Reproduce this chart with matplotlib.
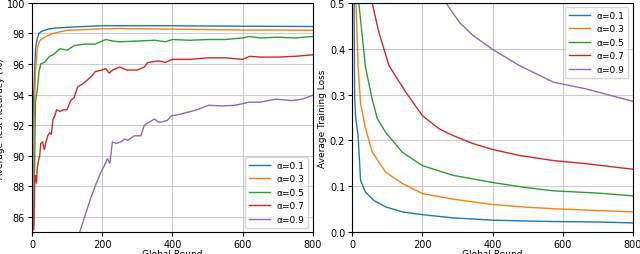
import matplotlib.pyplot as plt

labels = ['α=0.1', 'α=0.3', 'α=0.5', 'α=0.7', 'α=0.9']
colors = ['tab:blue', 'tab:orange', 'tab:green', 'tab:red', 'tab:purple']

# test accuracy (left)
acc_x = [
    [0, 5, 10, 15, 20, 25, 35, 50, 70, 100, 150, 200, 250, 300, 400, 500, 600, 700, 800],
    [0, 6, 10, 15, 20, 25, 40, 60, 80, 100, 150, 200, 250, 300, 400, 500, 600, 700, 800],
    [0, 5, 10, 15, 20, 25, 35, 50, 60, 80, 100, 120, 150, 180, 200, 210, 230, 250, 300, 350, 380, 400, 450, 500, 550, 600, 620, 650, 700, 750, 800],
    [0, 5, 8, 10, 13, 15, 18, 22, 25, 30, 35, 40, 45, 50, 55, 60, 65, 70, 80, 90, 100, 110, 120, 130, 145, 160, 170, 180, 200, 210, 220, 230, 250, 270, 300, 320, 330, 360, 380, 400, 450, 500, 550, 600, 620, 650, 700, 750, 800],
    [136, 150, 167, 180, 196, 205, 215, 222, 229, 240, 253, 265, 272, 292, 310, 320, 335, 349, 360, 368, 385, 397, 420, 445, 470, 503, 540, 579, 600, 618, 650, 695, 740, 770, 800],
]
acc_y = [
    [85.0, 94.0, 97.0, 97.7, 98.0, 98.1, 98.2, 98.3, 98.35, 98.4, 98.45, 98.5, 98.5, 98.5, 98.5, 98.48, 98.47, 98.46, 98.45],
    [85.0, 92.5, 95.5, 97.0, 97.4, 97.6, 97.8, 98.0, 98.1, 98.2, 98.25, 98.3, 98.32, 98.3, 98.28, 98.25, 98.22, 98.22, 98.2],
    [85.0, 85.5, 93.5, 94.3, 95.5, 96.0, 96.1, 96.5, 96.6, 97.0, 96.9, 97.2, 97.3, 97.3, 97.5, 97.6, 97.5, 97.45, 97.5, 97.55, 97.45, 97.6, 97.55, 97.6, 97.6, 97.7, 97.8, 97.7, 97.75, 97.7, 97.8],
    [85.0, 85.2, 88.5, 88.7, 88.2, 89.2, 89.6, 90.0, 90.8, 90.9, 90.4, 90.9, 91.3, 91.5, 91.4, 92.4, 92.6, 93.0, 92.9, 93.0, 93.0, 93.6, 93.8, 94.5, 94.7, 95.0, 95.2, 95.5, 95.6, 95.7, 95.4, 95.6, 95.8, 95.6, 95.6, 95.8, 96.1, 96.2, 96.1, 96.3, 96.3, 96.4, 96.4, 96.3, 96.5, 96.45, 96.45, 96.5, 96.6],
    [85.0, 86.0, 87.2, 88.0, 88.9, 89.3, 89.8, 89.5, 90.9, 90.8, 90.9, 91.1, 91.0, 91.3, 91.3, 92.0, 92.2, 92.4, 92.2, 92.2, 92.3, 92.6, 92.7, 92.85, 93.0, 93.3, 93.25, 93.3, 93.4, 93.5, 93.5, 93.7, 93.6, 93.7, 93.95],
]

# training loss (right)
loss_x = [
    [1, 4, 7, 10, 17, 24, 38, 62, 95, 143, 200, 286, 401, 500, 573, 700, 800],
    [1, 6, 11, 17, 24, 38, 57, 95, 143, 200, 286, 401, 500, 573, 700, 800],
    [1, 10, 19, 38, 57, 72, 95, 143, 200, 286, 401, 496, 573, 700, 800],
    [1, 30, 57, 76, 105, 153, 200, 248, 286, 344, 401, 477, 573, 668, 800],
    [1, 150, 267, 305, 344, 401, 477, 573, 668, 800],
]
loss_y = [
    [1.20, 0.70, 0.30, 0.25, 0.21, 0.113, 0.087, 0.069, 0.055, 0.044, 0.038, 0.031, 0.026, 0.024, 0.023, 0.022, 0.020],
    [1.30, 0.80, 0.50, 0.36, 0.28, 0.227, 0.175, 0.131, 0.106, 0.084, 0.072, 0.060, 0.054, 0.051, 0.047, 0.044],
    [1.40, 0.80, 0.50, 0.36, 0.29, 0.247, 0.218, 0.174, 0.145, 0.124, 0.108, 0.097, 0.090, 0.085, 0.079],
    [1.50, 0.80, 0.50, 0.436, 0.363, 0.305, 0.254, 0.225, 0.211, 0.193, 0.180, 0.167, 0.156, 0.149, 0.137],
    [1.60, 0.70, 0.50, 0.458, 0.429, 0.398, 0.363, 0.327, 0.312, 0.285],
]

plt.rcParams['font.size'] = 7
fig, (ax1, ax2) = plt.subplots(1, 2, figsize=(6.4, 2.55), dpi=100)

for i in range(5):
    ax1.plot(acc_x[i], acc_y[i], color=colors[i], lw=1.0, label=labels[i])
ax1.set_xlim(0, 800)
ax1.set_ylim(85, 100)
ax1.set_yticks([86, 88, 90, 92, 94, 96, 98, 100])
ax1.set_xticks([0, 200, 400, 600, 800])
ax1.set_xlabel('Global Round', fontsize=6.5, labelpad=0)
ax1.set_ylabel('Average Test Accuracy (%)', fontsize=6.5, labelpad=1)
ax1.grid(True, color='#cccccc', lw=0.8)
ax1.legend(loc='lower right', fontsize=6.5, handlelength=2.3)

for i in range(5):
    ax2.plot(loss_x[i], loss_y[i], color=colors[i], lw=1.0, label=labels[i])
ax2.set_xlim(0, 800)
ax2.set_ylim(0, 0.5)
ax2.set_xticks([0, 200, 400, 600, 800])
ax2.set_xlabel('Global Round', fontsize=6.5, labelpad=0)
ax2.set_ylabel('Average Training Loss', fontsize=6.5, labelpad=2)
ax2.grid(True, color='#cccccc', lw=0.8)
ax2.legend(loc='upper right', fontsize=6.5, handlelength=2.3)

for ax in (ax1, ax2):
    ax.tick_params(length=3, pad=2)

plt.subplots_adjust(left=0.05, right=0.989, top=0.985, bottom=0.086, wspace=0.14)
plt.savefig('out.png', dpi=100)
